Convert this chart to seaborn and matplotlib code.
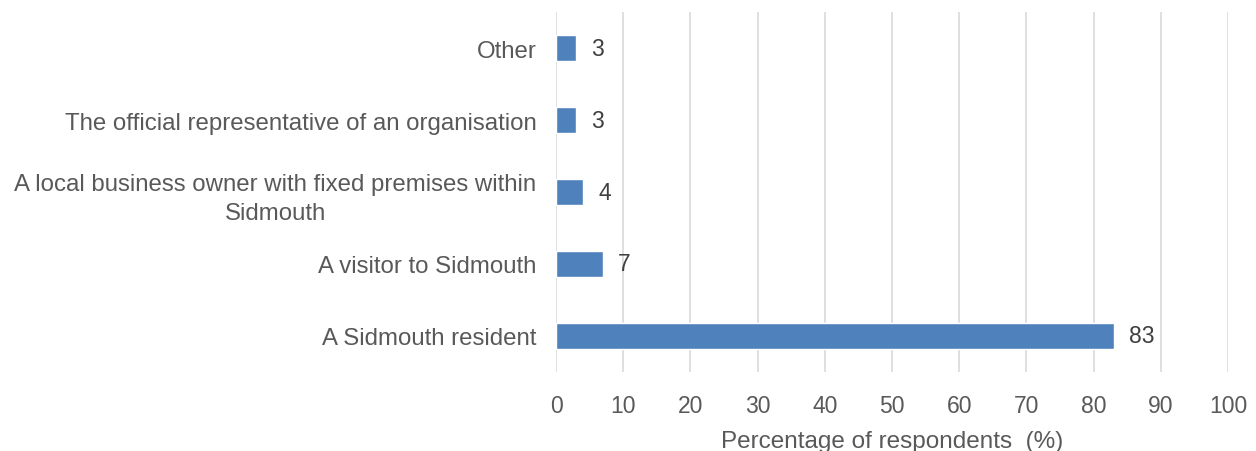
import matplotlib
matplotlib.use("Agg")
import matplotlib.pyplot as plt
import seaborn as sns
import pandas as pd

categories = [
    "Other",
    "The official representative of an organisation",
    "A local business owner with fixed premises within\nSidmouth",
    "A visitor to Sidmouth",
    "A Sidmouth resident",
]
percentages = [3, 3, 4, 7, 83]
x_ticks = [0, 10, 20, 30, 40, 50, 60, 70, 80, 90, 100]

sns.set_theme(style="white")
plt.rcParams["font.family"] = ["Liberation Sans", "DejaVu Sans"]

df = pd.DataFrame({"category": categories, "pct": percentages})

fig = plt.figure(figsize=(12.56, 4.52), dpi=100)
ax = fig.add_axes([0.4427, 0.175, 0.535, 0.796])

sns.barplot(data=df, x="pct", y="category", order=categories, color="#4F81BD",
            width=0.35, saturation=1, ax=ax, orient="h")

for i, v in enumerate(percentages):
    ax.annotate(str(v), xy=(v, i), xytext=(11, 0), textcoords="offset points",
                va="center", ha="left", fontsize=16.5, color="#404040")

ax.set_xlim(0, 100)
ax.set_ylim(4.5, -0.5)
ax.set_xticks(x_ticks)
ax.xaxis.grid(True, color="#D9D9D9", linewidth=1.2)
ax.set_axisbelow(True)
for s in ax.spines.values():
    s.set_visible(False)
ax.tick_params(axis="both", length=0, labelcolor="#595959")
ax.tick_params(axis="x", pad=16, labelsize=16.5)
ax.tick_params(axis="y", pad=14, labelsize=17.3)
for lbl in ax.get_yticklabels():
    lbl.set_multialignment("center")
    lbl.set_linespacing(1.45)
ax.set_ylabel("")
ax.set_xlabel("Percentage of respondents  (%)", fontsize=17.5, color="#595959", labelpad=9)

fig.savefig("out.png", dpi=100)
